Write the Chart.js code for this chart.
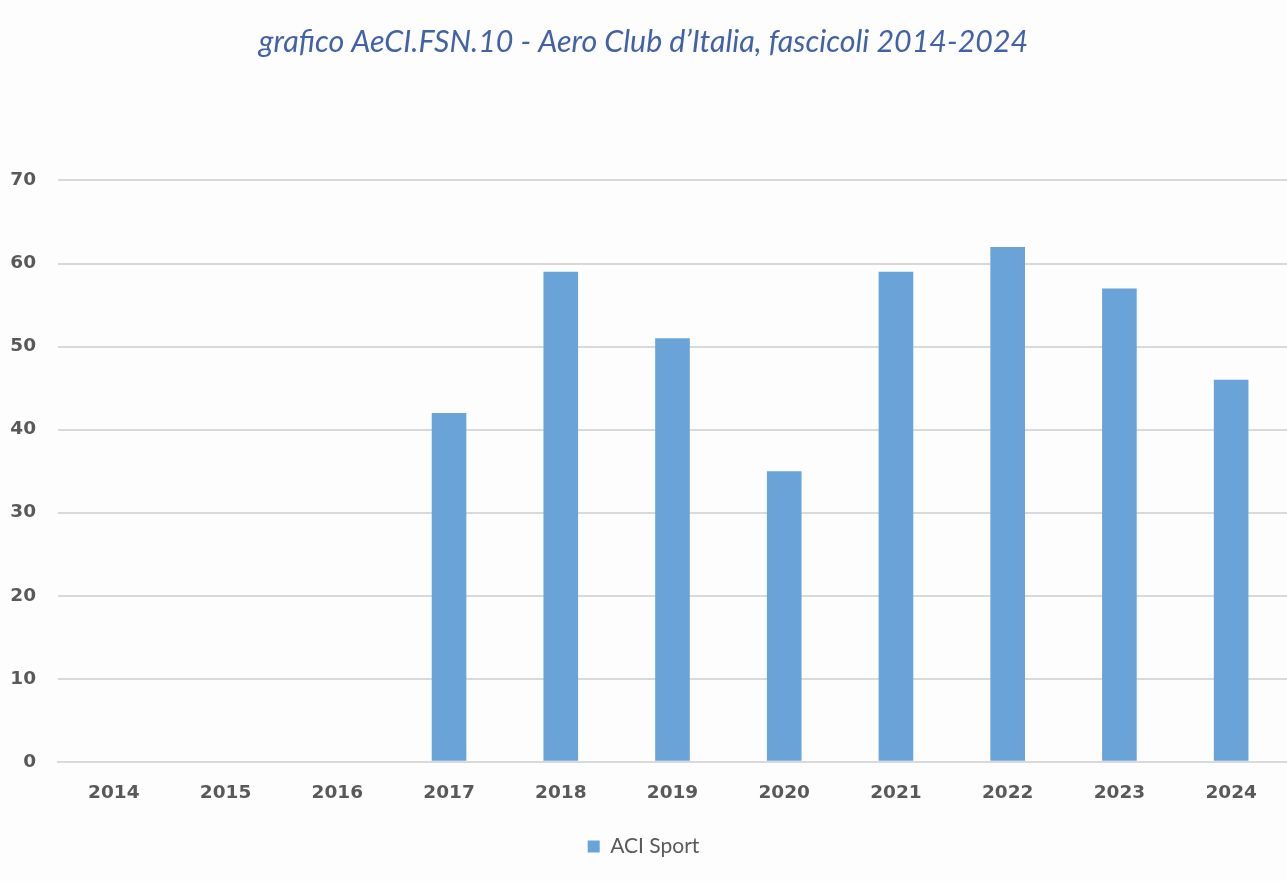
<!DOCTYPE html>
<html>
<head>
<meta charset="utf-8">
<script src="https://cdn.jsdelivr.net/npm/chart.js@4"></script>
<style>
	html, body { margin: 0; padding: 0; background: #fdfdfd; }
	#wrap { width: 1287px; height: 881px; position: relative; }
</style>
</head>
<body>
<div id="wrap"><canvas id="myChart"></canvas></div>
<script>
const years = ["2014", "2015", "2016", "2017", "2018", "2019", "2020", "2021", "2022", "2023", "2024"];
const aciSport = [0, 0, 0, 42, 59, 51, 35, 59, 62, 57, 46];
const yTicks = [0, 10, 20, 30, 40, 50, 60, 70];

const ctx = document.getElementById("myChart");

new Chart(ctx, {
	type: "bar",
	data: {
		labels: years,
		datasets: [
			{
				label: "ACI Sport",
				data: aciSport,
				backgroundColor: "#6aa3d8",
				borderWidth: 0,
				barPercentage: 0.62,
				categoryPercentage: 0.5,
			},
		],
	},
	options: {
		responsive: true,
		maintainAspectRatio: false,
		animation: false,
		layout: { padding: { left: 0, right: 0, top: 0, bottom: 14 } },
		plugins: {
			title: {
				display: true,
				text: "grafico AeCI.FSN.10 - Aero Club d\u2019Italia, fascicoli 2014-2024",
				color: "#4262a8",
				font: { family: "Lato", size: 30.4, style: "italic", weight: "normal" },
				padding: { top: 24, bottom: 120 },
			},
			legend: {
				position: "bottom",
				labels: {
					color: "#595959",
					font: { family: "Lato", size: 21 },
					boxWidth: 12,
					boxHeight: 12,
					padding: 12,
				},
			},
			tooltip: { enabled: false },
		},
		scales: {
			x: {
				grid: { display: false, drawTicks: false },
				border: { color: "#d9d9d9", width: 2 },
				ticks: {
					color: "#595959",
					font: { family: "DejaVu Sans", size: 18.5, weight: "bold" },
					padding: 20,
				},
			},
			y: {
				min: 0,
				max: 70,
				afterBuildTicks: (scale) => {
					scale.ticks = yTicks.map((v) => ({ value: v }));
				},
				afterFit: (scale) => {
					scale.width = 58;
				},
				grid: { color: "#d9d9d9", lineWidth: 2, drawTicks: false },
				border: { display: false },
				ticks: {
					color: "#595959",
					font: { family: "DejaVu Sans", size: 18.5, weight: "bold" },
					padding: 22,
				},
			},
		},
	},
});
</script>
</body>
</html>
